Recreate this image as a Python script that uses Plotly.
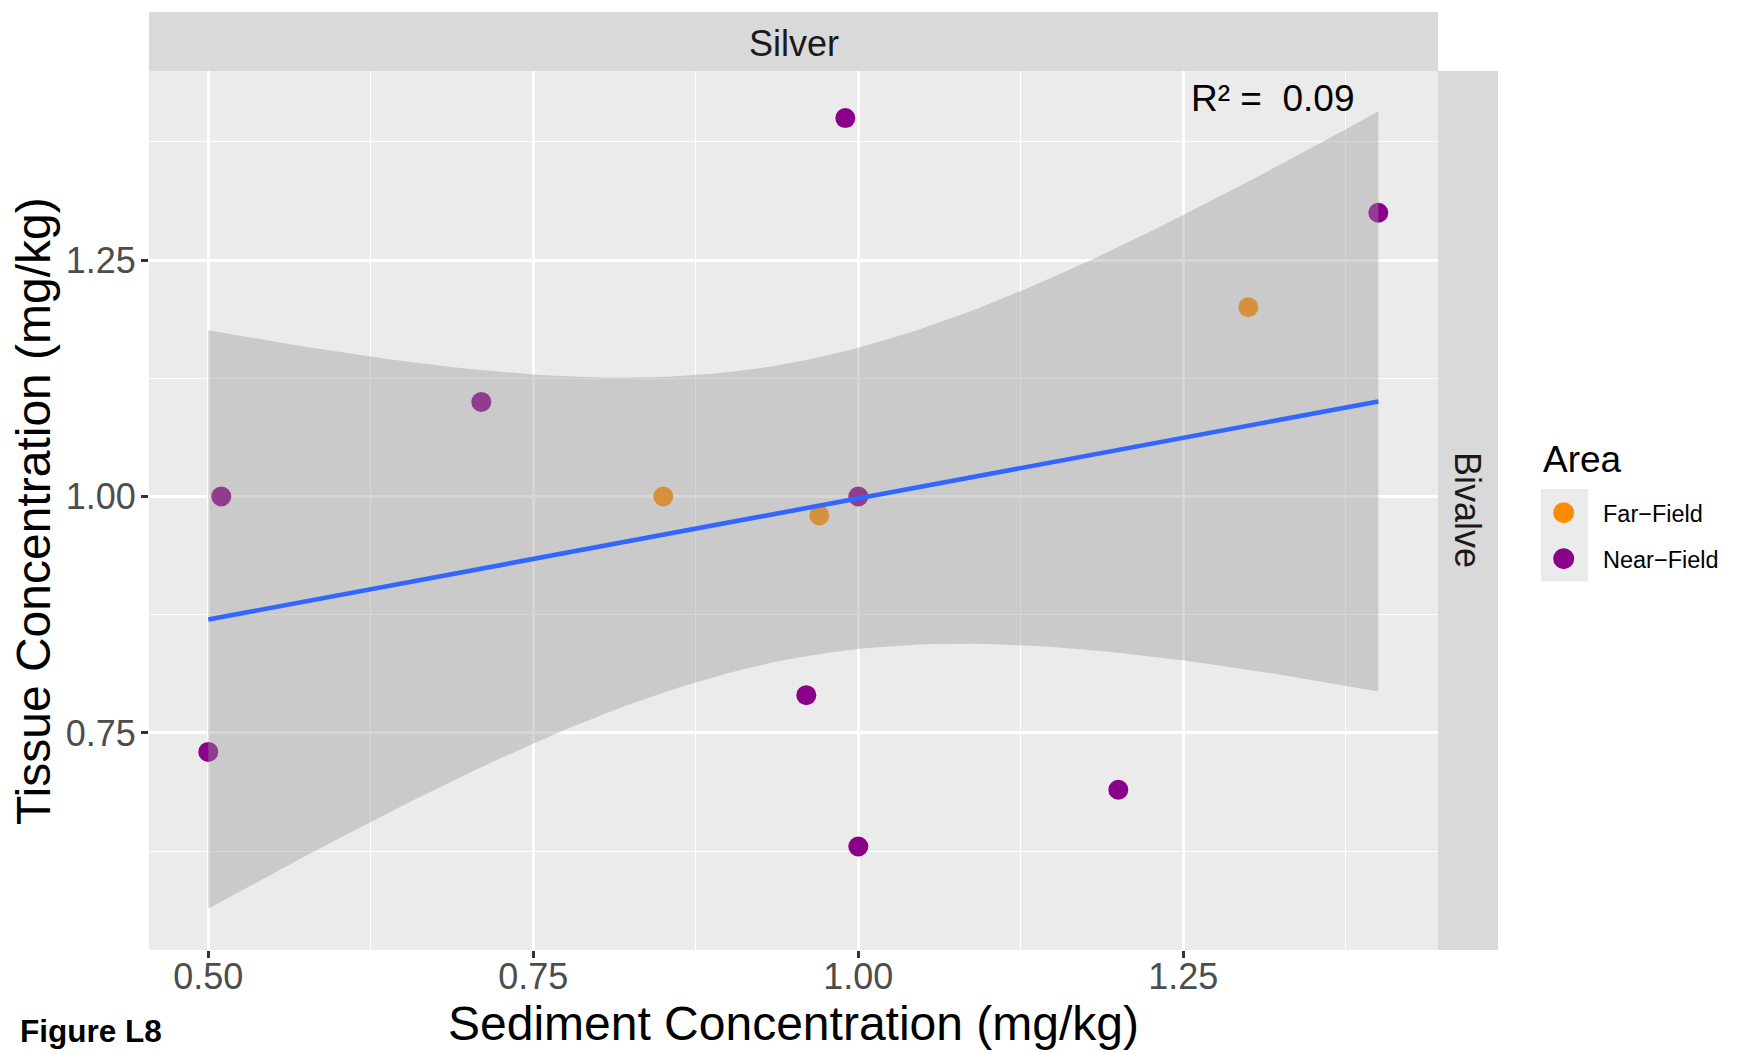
import numpy as np
import plotly.graph_objects as go

# ---------------- data ----------------
sediment = [0.50, 0.51, 0.71, 0.85, 0.97, 0.96, 0.99, 1.00, 1.00, 1.20, 1.30, 1.40]
tissue = [0.73, 1.00, 1.10, 1.00, 0.98, 0.79, 1.40, 1.00, 0.63, 0.69, 1.20, 1.30]
area = ["Near-Field", "Near-Field", "Near-Field", "Far-Field", "Far-Field", "Near-Field",
        "Near-Field", "Near-Field", "Near-Field", "Near-Field", "Far-Field", "Near-Field"]
area_levels = ["Far-Field", "Near-Field"]
area_labels = ["Far\u2212Field", "Near\u2212Field"]
area_colors = ["#FF8C00", "#8B008B"]
x_ticks = [0.50, 0.75, 1.00, 1.25]
x_ticklabels = ["0.50", "0.75", "1.00", "1.25"]
y_ticks = [0.75, 1.00, 1.25]
y_ticklabels = ["0.75", "1.00", "1.25"]
element = "Silver"
tissue_type = "Bivalve"
figure_label = "Figure L8"
t_975_df10 = 2.228139  # qt(0.975, n-2) for the lm confidence band

# ---------------- layout geometry (pixels) ----------------
W, H = 1739, 1053
L, R, T, B = 149, 1438, 71, 950
FONT = "Liberation Sans, Arial, Helvetica, sans-serif"


def px(x):
    return (x - L) / (R - L)


def py(y):
    return (B - y) / (B - T)


# ---------------- lm fit (geom_smooth(method = "lm")) ----------------
xa = np.array(sediment)
ya = np.array(tissue)
n = len(xa)
slope, intercept = np.polyfit(xa, ya, 1)
resid = ya - (intercept + slope * xa)
s = np.sqrt(np.sum(resid ** 2) / (n - 2))
sxx = np.sum((xa - xa.mean()) ** 2)
xg = np.linspace(xa.min(), xa.max(), 80)
fit = intercept + slope * xg
se = s * np.sqrt(1.0 / n + (xg - xa.mean()) ** 2 / sxx)
lo = fit - t_975_df10 * se
hi = fit + t_975_df10 * se
r2 = np.corrcoef(xa, ya)[0, 1] ** 2

fig = go.Figure()

# points
for lev, lab, col in zip(area_levels, area_labels, area_colors):
    xs = [x for x, a in zip(sediment, area) if a == lev]
    ys = [y for y, a in zip(tissue, area) if a == lev]
    fig.add_trace(go.Scatter(x=xs, y=ys, mode="markers", name=lab,
                             marker=dict(color=col, size=20, line=dict(width=0)),
                             showlegend=False))

# confidence ribbon (drawn over the points like ggplot)
fig.add_trace(go.Scatter(x=np.concatenate([xg, xg[::-1]]),
                         y=np.concatenate([hi, lo[::-1]]),
                         mode="lines", fill="toself",
                         fillcolor="rgba(153,153,153,0.4)",
                         line=dict(width=0, color="rgba(0,0,0,0)"),
                         hoverinfo="skip", showlegend=False))
# fitted line
fig.add_trace(go.Scatter(x=xg, y=fit, mode="lines",
                         line=dict(color="#3366FF", width=4.6),
                         hoverinfo="skip", showlegend=False))

shapes = []
annotations = []

# strips
shapes.append(dict(type="rect", xref="paper", yref="paper", x0=0, x1=1,
                   y0=1, y1=py(12), fillcolor="#D9D9D9", line=dict(width=0), layer="below"))
shapes.append(dict(type="rect", xref="paper", yref="paper", x0=1, x1=px(1498),
                   y0=0, y1=1, fillcolor="#D9D9D9", line=dict(width=0), layer="below"))
annotations.append(dict(text=element, xref="paper", yref="paper", x=0.5, y=py(43),
                        xanchor="center", yanchor="middle", showarrow=False,
                        font=dict(size=36, color="#1A1A1A", family=FONT)))
annotations.append(dict(text=tissue_type, xref="paper", yref="paper", x=px(1468), y=py(510),
                        xanchor="center", yanchor="middle", showarrow=False, textangle=90,
                        font=dict(size=36, color="#1A1A1A", family=FONT)))

# R² annotation
annotations.append(dict(text="R\u00b2 =  %.2f" % r2, xref="paper", yref="paper",
                        x=px(1273), y=py(98), xanchor="center", yanchor="middle",
                        showarrow=False, font=dict(size=37, color="black", family=FONT)))

# axis titles
annotations.append(dict(text="Sediment Concentration (mg/kg)", xref="paper", yref="paper",
                        x=px(793.5), y=py(1023), xanchor="center", yanchor="middle",
                        showarrow=False, font=dict(size=48, color="black", family=FONT)))
annotations.append(dict(text="Tissue Concentration (mg/kg)", xref="paper", yref="paper",
                        x=px(33), y=py(511), xanchor="center", yanchor="middle",
                        textangle=-90, showarrow=False,
                        font=dict(size=48, color="black", family=FONT)))

# figure label
annotations.append(dict(text="<b>%s</b>" % figure_label, xref="paper", yref="paper",
                        x=px(18), y=py(1031), xanchor="left", yanchor="middle",
                        showarrow=False, font=dict(size=31.5, color="black", family=FONT)))

# legend (ggplot style)
annotations.append(dict(text="Area", xref="paper", yref="paper", x=px(1541), y=py(459),
                        xanchor="left", yanchor="middle", showarrow=False,
                        font=dict(size=37, color="black", family=FONT)))
shapes.append(dict(type="rect", xref="paper", yref="paper", x0=px(1541), x1=px(1588),
                   y0=py(581.5), y1=py(489), fillcolor="#EBEBEB", line=dict(width=0)))
key_centers = [512.7, 558.7]
for lab, col, cy in zip(area_labels, area_colors, key_centers):
    r = 10.5
    shapes.append(dict(type="circle", xref="paper", yref="paper",
                       x0=px(1563.7 - r), x1=px(1563.7 + r),
                       y0=py(cy + r), y1=py(cy - r),
                       fillcolor=col, line=dict(width=0)))
    annotations.append(dict(text=lab, xref="paper", yref="paper", x=px(1601), y=py(cy + 1),
                            xanchor="left", yanchor="middle", showarrow=False,
                            font=dict(size=23.5, color="black", family=FONT)))

axis_common = dict(showline=False, zeroline=False, showgrid=True, gridcolor="white",
                   gridwidth=2.7, ticks="outside", ticklen=7, tickwidth=2.7,
                   tickcolor="#333333", tickfont=dict(size=36, color="#4D4D4D", family=FONT))

fig.update_layout(
    width=W, height=H,
    margin=dict(l=L, r=W - R, t=T, b=H - B, autoexpand=False),
    paper_bgcolor="white", plot_bgcolor="#EBEBEB",
    showlegend=False,
    xaxis=dict(range=[0.4544, 1.4459], tickvals=x_ticks, ticktext=x_ticklabels,
               ticklabelstandoff=-12,
               minor=dict(tickvals=[0.625, 0.875, 1.125, 1.375], showgrid=True,
                          gridcolor="white", gridwidth=1.4, ticks=""),
               **axis_common),
    yaxis=dict(range=[0.5206, 1.4498], tickvals=y_ticks, ticktext=y_ticklabels,
               ticklabelstandoff=-2,
               minor=dict(tickvals=[0.625, 0.875, 1.125, 1.375], showgrid=True,
                          gridcolor="white", gridwidth=1.4, ticks=""),
               **axis_common),
    shapes=shapes, annotations=annotations,
    font=dict(family=FONT),
)

fig.write_html("out.html")
